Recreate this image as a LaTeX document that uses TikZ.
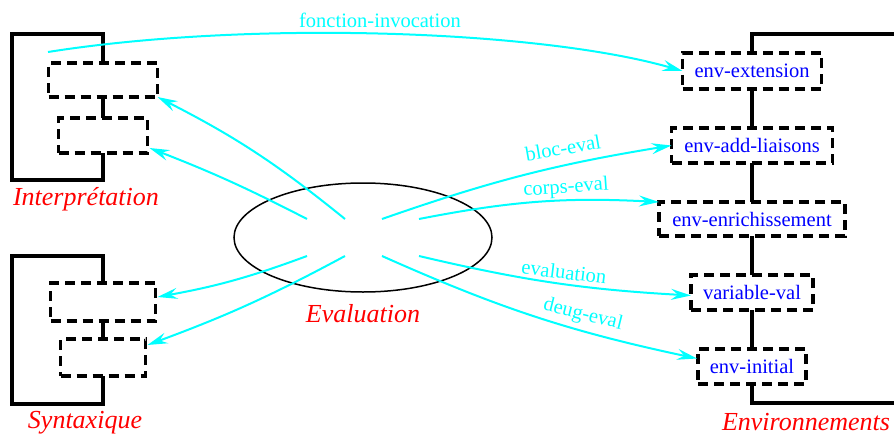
\documentclass[tikz,border=0pt]{standalone}
\usepackage{fontspec}
\setmainfont{Liberation Serif}
\usetikzlibrary{arrows.meta,calc,shapes.geometric}
\definecolor{aqua}{RGB}{0,255,255}
\definecolor{pureblue}{RGB}{0,0,255}
\definecolor{purered}{RGB}{255,0,0}
\begin{document}
\begin{tikzpicture}[x=1pt,y=-1pt,
  bracket/.style={line width=3.5pt,line join=miter},
  dbox/.style={draw,line width=3.5pt,dash pattern=on 10pt off 6pt,inner sep=0pt,outer sep=0pt,text=pureblue,font=\fontsize{20.5}{24}\selectfont},
  flow/.style={aqua,line width=2pt,-{Stealth[length=20pt,width=11pt,inset=7pt]}},
  flab/.style={text=aqua,font=\fontsize{20.5}{24}\selectfont,inner sep=0pt},
  title/.style={text=purered,font=\fontsize{26}{30}\selectfont\itshape,inner sep=0pt,anchor=base}]
\useasboundingbox (0,0) rectangle (894,436);

% Interpretation
\node[dbox,minimum width=109pt,minimum height=34pt] (I1) at (103,80) {};
\node[dbox,minimum width=89pt,minimum height=35pt] (I2) at (103,135.5) {};
\draw[bracket] (I1.north) |- (12,34) -- (12,180) -| (I2.south);
\draw[bracket] (I1.south) -- (I2.north);
\node[title] (tI) at (86,205) {Interprétation};

% Syntaxique
\node[dbox,minimum width=105pt,minimum height=38pt] (S1) at (103,302) {};
\node[dbox,minimum width=85pt,minimum height=37pt] (S2) at (103,357.5) {};
\draw[bracket] (S1.north) |- (12,256) -- (12,404) -| (S2.south);
\draw[bracket] (S1.south) -- (S2.north);
\node[title] (tS) at (85,428) {Syntaxique};

% Environnements
\node[dbox,minimum width=139pt,minimum height=36pt] (E1) at (752,71) {env-extension};
\node[dbox,minimum width=161pt,minimum height=35pt] (E2) at (752,145.5) {env-add-liaisons};
\node[dbox,minimum width=186pt,minimum height=34pt] (E3) at (752,219) {env-enrichissement};
\node[dbox,minimum width=122pt,minimum height=35pt] (E4) at (752,292.5) {variable-val};
\node[dbox,minimum width=108pt,minimum height=35pt] (E5) at (752,366.5) {env-initial};
\draw[bracket] (E1.north) |- (898,34);
\draw[bracket] (E5.south) |- (898,403);
\draw[bracket] (E1.south) -- (E2.north);
\draw[bracket] (E2.south) -- (E3.north);
\draw[bracket] (E3.south) -- (E4.north);
\draw[bracket] (E4.south) -- (E5.north);
\node[title] (tE) at (806,430) {Environnements};

% Evaluation
\node[draw,ellipse,line width=1.5pt,minimum width=258pt,minimum height=109pt,inner sep=0pt] (ev) at (363,237.5) {};
\node[title] (tEv) at (363,322) {Evaluation};

\coordinate (fi) at (48,52);
\coordinate (a1) at (307,219);
\coordinate (a2) at (345,219);
\coordinate (a3) at (382,219);
\coordinate (a4) at (419,219);
\coordinate (b1) at (307,256);
\coordinate (b2) at (345,256);
\coordinate (b3) at (382,256);
\coordinate (b4) at (419,256);

\draw[flow] (fi) .. controls (250,20) and (540,30) .. (E1.west);
\node[flab] (lfi) at (380,20) {fonction-invocation};

\draw[flow] (a2) to[bend right=6] (I1.south east);
\draw[flow] (a1) to[bend right=3] ($(I2.south east)+(2,-5)$);
\draw[flow] (b1) to[bend left=5] ($(S1.east)+(2,-5)$);
\draw[flow] (b2) to[bend left=4] ($(S2.north east)+(2,6)$);

\draw[flow] (a3) to[bend left=5] (E2.west);
\draw[flow] (a4) to[bend left=7] (E3.north west);
\draw[flow] (b4) to[bend right=5] ($(E4.west)+(0,3)$);
\draw[flow] (b3) to[bend right=6] ($(E5.west)+(-1,-8)$);

\node[flab,rotate=10] (lbe) at (563,148) {bloc-eval};
\node[flab,rotate=4] (lce) at (566,188) {corps-eval};
\node[flab,rotate=-7] (lev) at (564,272) {evaluation};
\node[flab,rotate=-14] (lde) at (583,315) {deug-eval};
\end{tikzpicture}
\end{document}
